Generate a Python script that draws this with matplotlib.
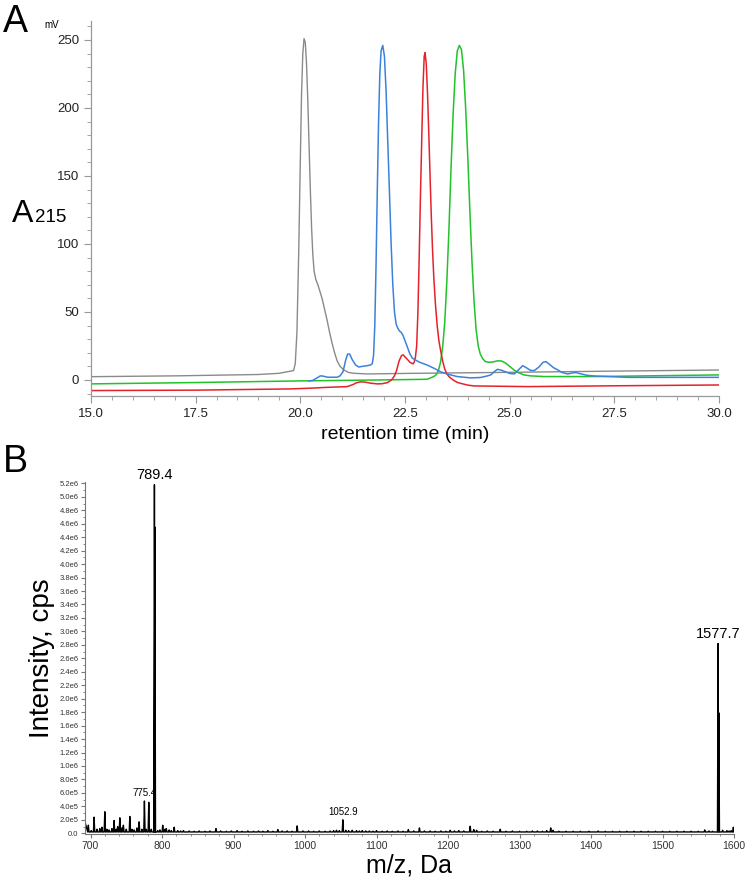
import numpy as np
import matplotlib
matplotlib.use('Agg')
import matplotlib.pyplot as plt
from matplotlib.ticker import MultipleLocator

plt.rcParams['font.family'] = ['Liberation Sans', 'DejaVu Sans']

# Panel A: HPLC traces (retention time in min, A215 in mV)
grey_t = [15.0, 17.0, 19.0, 19.5, 19.84, 19.88, 19.92, 19.96, 20.00, 20.03, 20.06, 20.09, 20.12,
          20.15, 20.18, 20.21, 20.24, 20.27, 20.30, 20.33, 20.37, 20.42, 20.47, 20.52, 20.58,
          20.64, 20.70, 20.76, 20.82, 20.88, 20.95, 21.04, 21.15, 21.28, 21.6, 22.5, 25.0,
          27.5, 30.0]
grey_v = [2.4, 3.0, 4.0, 4.9, 6.9, 12, 35, 90, 160, 210, 240, 251, 248,
          232, 205, 172, 140, 112, 92, 80, 74, 70, 65, 60, 52,
          44, 35, 27, 20, 14, 10, 7.4, 5.5, 4.9, 4.4, 4.8, 5.6,
          6.5, 7.3]

blue_t = [20.2, 20.3, 20.4, 20.48, 20.55, 20.65, 20.88, 20.95, 21.02, 21.08, 21.13, 21.18,
          21.24, 21.32, 21.4, 21.48, 21.6, 21.68, 21.72, 21.75, 21.78, 21.81, 21.84, 21.87,
          21.90, 21.93, 21.97, 22.01, 22.05, 22.09, 22.13, 22.17, 22.21, 22.25, 22.29, 22.33,
          22.37, 22.41, 22.45, 22.5, 22.56, 22.62, 22.68, 22.75, 22.85, 23.03, 23.2, 23.35,
          23.55, 23.75, 24.07, 24.3, 24.45, 24.55, 24.65, 24.71, 24.8, 24.9, 25.0, 25.11,
          25.2, 25.31, 25.4, 25.5, 25.59, 25.7, 25.8, 25.87, 25.95, 26.05, 26.15, 26.25,
          26.39, 26.5, 26.59, 26.7, 26.85, 27.03, 27.83, 30.0]
blue_v = [-0.8, -0.3, 1.5, 3.0, 2.8, 2.0, 2.0, 3.0, 6, 14, 19, 19,
          15, 11, 9.5, 10, 10.5, 11, 12, 18, 40, 85, 140, 190,
          225, 242, 246, 238, 212, 175, 138, 100, 70, 50, 41, 38,
          36, 35, 33, 29, 24, 19, 16, 14.7, 13, 11, 8.5, 6,
          4, 2.5, 1.5, 1.8, 2.8, 3.7, 6.5, 7.8, 7.2, 6, 4.8, 4.4,
          7, 10.5, 9, 7, 6.9, 9.5, 13, 13.5, 11.5, 9, 7.4, 5.5,
          4.4, 5.2, 5.4, 4.5, 3.4, 2.9, 1.9, 1.9]

red_t = [15.0, 17.5, 19.76, 20.28, 20.6, 21.12, 21.25, 21.35, 21.45, 21.55, 21.68, 21.84,
         21.95, 22.08, 22.18, 22.25, 22.3, 22.36, 22.42, 22.46, 22.5, 22.55, 22.62, 22.69,
         22.72, 22.75, 22.78, 22.81, 22.84, 22.87, 22.90, 22.93, 22.96, 22.98, 23.01, 23.04,
         23.07, 23.10, 23.13, 23.16, 23.19, 23.23, 23.27, 23.31, 23.35, 23.4, 23.45, 23.5,
         23.55, 23.65, 23.75, 23.83, 24.0, 24.15, 25.43, 27.5, 30.0]
red_v = [-7.8, -7.5, -6.6, -6.0, -5.5, -4.9, -3.5, -2.0, -1.4, -1.6, -2.4, -2.9,
         -2.8, -2.0, 0, 3, 7, 14, 18, 18.4, 17, 15.4, 13, 11.8,
         13, 16.7, 25, 50, 90, 135, 175, 215, 238, 240.7, 232, 210,
         181, 150, 120, 95, 75, 55, 40, 29, 22, 14, 8, 4.5,
         2.5, 0, -1.8, -2.5, -3.8, -4.4, -4.9, -4.3, -3.7]

green_t = [15.0, 17.5, 20.0, 21.91, 23.03, 23.19, 23.25, 23.3, 23.35, 23.4, 23.45, 23.5,
           23.55, 23.6, 23.65, 23.7, 23.75, 23.8, 23.85, 23.9, 23.95, 24.0, 24.05, 24.1,
           24.15, 24.2, 24.25, 24.3, 24.36, 24.42, 24.5, 24.6, 24.7, 24.8, 24.9, 25.0,
           25.1, 25.2, 25.34, 25.5, 25.82, 27.03, 30.0]
green_v = [-2.9, -1.9, -0.7, 0.0, 0.5, 2.5, 4, 7, 13, 24, 42, 72,
           110, 155, 195, 225, 242, 246, 243, 228, 200, 165, 125, 88,
           58, 37, 25, 19, 15.5, 13.5, 13, 13.2, 14, 14, 12.5, 10,
           7.5, 5.5, 3.7, 3, 2.5, 2.5, 3.7]

# Panel B: ESI mass spectrum, centroid peaks (m/z, cps)
peak_mz = [692, 697, 701, 705, 709, 713, 716, 720, 723, 726, 730, 733, 736, 738, 741, 744,
           746, 750, 755, 758, 761, 765, 768, 772, 775.4, 778, 781.5, 785, 789.4, 790.0,
           794, 797, 801, 804, 806, 810, 813, 817, 822, 826, 830, 838, 845, 852, 860, 867,
           875.5, 882, 890, 897, 905, 912, 920, 928, 935, 941, 948, 955, 962, 968, 975, 982,
           989, 997, 1005, 1012, 1020, 1028, 1035, 1040, 1044, 1048, 1052.9, 1057, 1061,
           1066, 1072, 1076, 1080, 1085, 1090, 1095, 1100, 1108, 1115, 1122, 1130, 1137,
           1144.5, 1152, 1160, 1167, 1175, 1182, 1190, 1197, 1203, 1209, 1215, 1222,
           1231, 1236, 1240, 1247, 1255, 1263, 1273, 1281, 1290, 1300, 1310, 1318, 1325,
           1332, 1338, 1343.6, 1347, 1355, 1365, 1375, 1385, 1397, 1410, 1420, 1430, 1440,
           1450, 1460, 1470, 1480, 1490, 1500, 1510, 1520, 1530, 1540, 1550, 1559, 1565,
           1570, 1577.7, 1578.7, 1584, 1590, 1593, 1596, 1599]
peak_int = [1.8e5, 1.2e5, 0.4e5, 2.4e5, 0.6e5, 0.7e5, 0.9e5, 3.2e5, 0.6e5, 0.5e5, 0.7e5,
            1.9e5, 0.6e5, 1.0e5, 2.3e5, 0.8e5, 1.2e5, 0.6e5, 2.5e5, 0.6e5, 0.5e5, 0.8e5,
            1.7e5, 0.6e5, 4.8e5, 0.6e5, 4.6e5, 0.6e5, 5.18e6, 4.55e6,
            0.4e5, 0.5e5, 1.2e5, 0.6e5, 0.7e5, 0.5e5, 0.4e5, 0.9e5, 0.4e5, 0.35e5, 0.4e5,
            0.35e5, 0.3e5, 0.35e5, 0.3e5, 0.35e5,
            0.7e5, 0.35e5, 0.3e5, 0.35e5, 0.4e5, 0.3e5, 0.35e5, 0.3e5, 0.35e5, 0.3e5,
            0.4e5, 0.3e5, 0.55e5, 0.35e5, 0.35e5, 0.3e5,
            1.1e5, 0.35e5, 0.35e5, 0.3e5, 0.35e5, 0.3e5, 0.35e5, 0.4e5, 0.45e5, 0.4e5,
            2.0e5, 0.45e5, 0.4e5,
            0.45e5, 0.4e5, 0.35e5, 0.4e5, 0.35e5, 0.35e5, 0.3e5, 0.4e5, 0.3e5, 0.35e5,
            0.3e5, 0.35e5, 0.3e5,
            0.55e5, 0.35e5, 0.8e5, 0.35e5, 0.35e5, 0.3e5, 0.35e5, 0.3e5, 0.45e5, 0.35e5,
            0.4e5, 0.35e5,
            1.05e5, 0.55e5, 0.45e5, 0.3e5, 0.35e5, 0.3e5, 0.6e5, 0.3e5, 0.35e5, 0.3e5,
            0.3e5, 0.35e5, 0.35e5,
            0.3e5, 0.4e5, 0.8e5, 0.45e5, 0.3e5, 0.3e5, 0.3e5, 0.3e5, 0.3e5, 0.35e5, 0.3e5,
            0.3e5, 0.3e5,
            0.3e5, 0.3e5, 0.3e5, 0.3e5, 0.3e5, 0.3e5, 0.3e5, 0.3e5, 0.3e5, 0.3e5, 0.3e5,
            0.5e5, 0.35e5,
            0.3e5, 2.82e6, 1.79e6, 0.45e5, 0.4e5, 0.35e5, 0.4e5, 0.9e5]
baseline = 2.0e4

peak_labels = ['789.4', '1577.7', '775.4', '1052.9']
label_mz = [789.4, 1577.7, 775.4, 1052.9]
label_int = [5.18e6, 2.82e6, 4.8e5, 2.0e5]
label_size = [10.5, 10.5, 7, 7]

fig = plt.figure(figsize=(7.45, 8.8), dpi=100)

# ---- panel A ----
axA = fig.add_axes([0.1221, 0.5497, 0.8429, 0.4265])
axA.plot(grey_t, grey_v, color='#8a8a8a', lw=1.0)
axA.plot(green_t, green_v, color='#22c22a', lw=1.1)
axA.plot(red_t, red_v, color='#e5222b', lw=1.1)
axA.plot(blue_t, blue_v, color='#3b82db', lw=1.1)
axA.set_xlim(15, 30)
axA.set_ylim(-12, 264)
axA.spines['top'].set_visible(False)
axA.spines['right'].set_visible(False)
for s in ['left', 'bottom']:
    axA.spines[s].set_color('#999999')
    axA.spines[s].set_linewidth(0.9)
axA.set_xticks([15.0, 17.5, 20.0, 22.5, 25.0, 27.5, 30.0])
axA.set_xticklabels(['15.0', '17.5', '20.0', '22.5', '25.0', '27.5', '30.0'])
axA.xaxis.set_minor_locator(MultipleLocator(0.5))
axA.set_yticks([0, 50, 100, 150, 200, 250])
axA.yaxis.set_minor_locator(MultipleLocator(10))
axA.tick_params(which='both', colors='#999999', labelcolor='#222222', labelsize=9.5)
axA.tick_params(which='major', length=5)
axA.tick_params(which='minor', length=3)
axA.set_xlabel('retention time (min)', fontsize=14, labelpad=4)
fig.text(0.060, 0.968, 'mV', fontsize=7, ha='left', va='baseline')
fig.text(0.016, 0.748, 'A', fontsize=23, va='baseline')
fig.text(0.047, 0.748, '215', fontsize=13.5, va='baseline')
fig.text(0.004, 0.995, 'A', fontsize=27, va='top')

# ---- panel B ----
mz_line = [peak_mz[0]]
int_line = [peak_int[0]]
for m, h in zip(peak_mz[1:], peak_int[1:]):
    mz_line += [m - 0.9, m, m + 0.9]
    int_line += [baseline, h, baseline]

axB = fig.add_axes([0.1138, 0.0523, 0.8715, 0.40])
axB.plot(mz_line, int_line, color='black', lw=1.0)
axB.set_xlim(692, 1600)
axB.set_ylim(-1e4, 5.22e6)
axB.spines['top'].set_visible(False)
axB.spines['right'].set_visible(False)
for s in ['left', 'bottom']:
    axB.spines[s].set_color('#777777')
    axB.spines[s].set_linewidth(0.8)
yt = np.arange(0, 27) * 2e5
ylabels = []
for v in yt:
    if v == 0:
        ylabels.append('0.0')
    elif v < 1e6:
        ylabels.append('%.1fe5' % (v / 1e5))
    else:
        ylabels.append('%.1fe6' % (v / 1e6))
axB.set_yticks(yt)
axB.set_yticklabels(ylabels)
axB.yaxis.set_minor_locator(MultipleLocator(1e5))
axB.set_xticks([700, 800, 900, 1000, 1100, 1200, 1300, 1400, 1500, 1600])
axB.xaxis.set_minor_locator(MultipleLocator(20))
axB.tick_params(axis='y', which='both', colors='#777777', labelcolor='#333333', labelsize=5.5, pad=1.5)
axB.tick_params(axis='x', which='both', colors='#777777', labelcolor='#333333', labelsize=7.5, pad=2)
axB.tick_params(which='major', length=3)
axB.tick_params(which='minor', length=1.5)
axB.set_xlabel('m/z, Da', fontsize=18, labelpad=2)
axB.set_ylabel('Intensity, cps', fontsize=20, labelpad=3)
for lab, m, h, fs in zip(peak_labels, label_mz, label_int, label_size):
    axB.annotate(lab, (m, h), xytext=(0, 2), textcoords='offset points',
                 ha='center', va='bottom', fontsize=fs)
fig.text(0.004, 0.495, 'B', fontsize=27, va='top')

fig.savefig('out.png', dpi=100)
